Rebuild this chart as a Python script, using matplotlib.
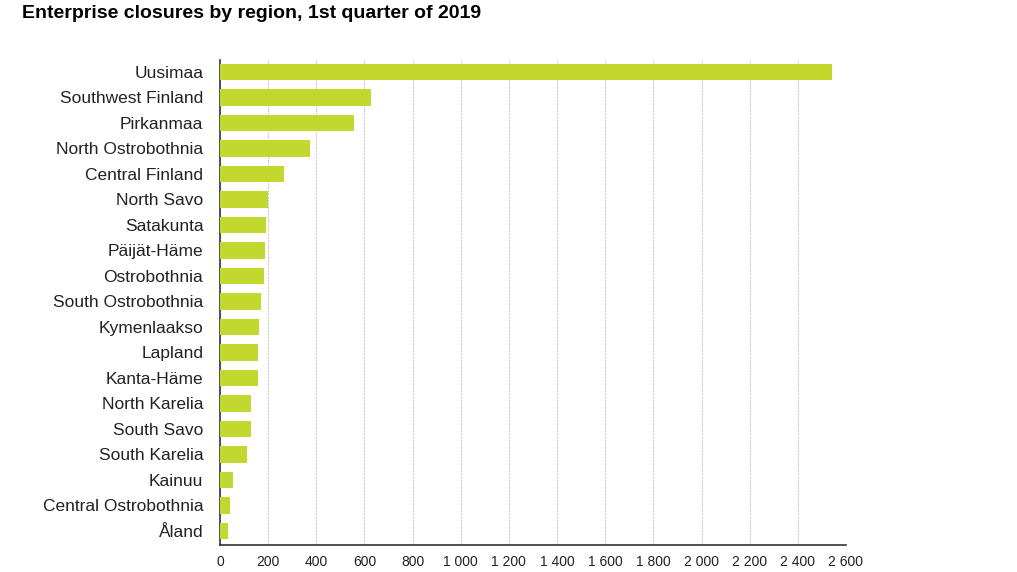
import matplotlib
matplotlib.use("Agg")
import matplotlib.pyplot as plt
import numpy as np

regions = ["Uusimaa", "Southwest Finland", "Pirkanmaa", "North Ostrobothnia",
           "Central Finland", "North Savo", "Satakunta", "Päijät-Häme",
           "Ostrobothnia", "South Ostrobothnia", "Kymenlaakso", "Lapland",
           "Kanta-Häme", "North Karelia", "South Savo", "South Karelia",
           "Kainuu", "Central Ostrobothnia", "Åland"]
closures = [2541, 629, 556, 374, 265, 198, 193, 185, 183, 171, 164, 157,
            157, 128, 128, 113, 54, 40, 32]
xticks = list(range(0, 2601, 200))
xtick_labels = [f"{v:,}".replace(",", " ") for v in xticks]

plt.rcParams['font.family'] = ['Liberation Sans', 'DejaVu Sans']

fig = plt.figure(figsize=(10.17, 5.72), dpi=100)
ax = fig.add_axes([220/1017, 27/572, 626/1017, 485/572])

y = np.arange(len(regions))
ax.barh(y, closures, height=0.63, color="#C3D82E", zorder=3)
ax.set_yticks(y)
ax.set_yticklabels(regions, fontsize=12.5, color="#222222")
ax.set_ylim(len(regions) - 1 + 0.55, -0.47)
ax.set_xlim(0, 2600)
ax.set_xticks(xticks)
ax.set_xticklabels(xtick_labels, fontsize=10, color="#222222")
ax.tick_params(axis='both', length=0)
ax.tick_params(axis='y', pad=12)
ax.tick_params(axis='x', pad=7)
ax.grid(axis='x', color="#cccccc", linestyle=(0, (2, 1)), linewidth=0.8, zorder=0)
for s in ["top", "right"]:
    ax.spines[s].set_visible(False)
for s in ["left", "bottom"]:
    ax.spines[s].set_color("#333333")
    ax.spines[s].set_linewidth(1.2)

fig.text(22/1017, 1 - 13/572, "Enterprise closures by region, 1st quarter of 2019",
         fontsize=14, fontweight="bold", va="center", ha="left", color="#000000")

fig.savefig("out.png", dpi=100)
